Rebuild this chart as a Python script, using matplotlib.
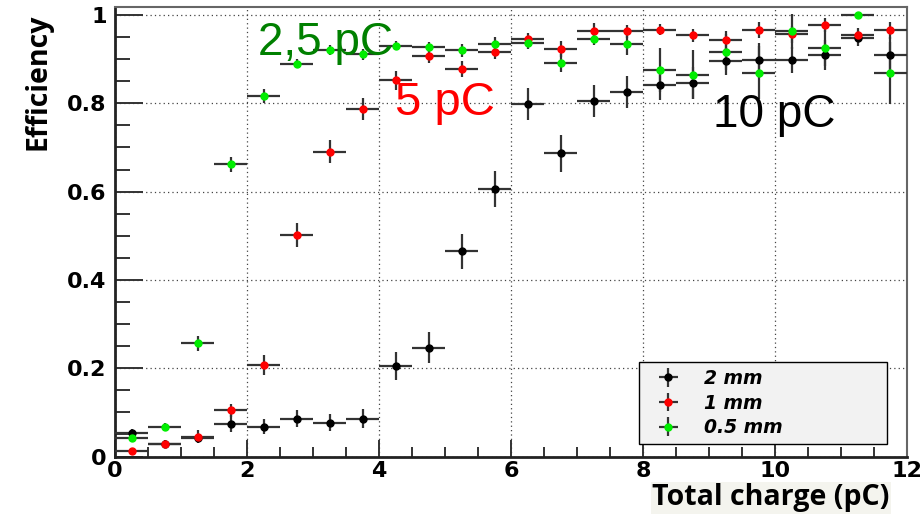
import matplotlib
matplotlib.use('Agg')
import matplotlib.pyplot as plt
from matplotlib.ticker import MultipleLocator

# bin centres (pC), bins of 0.5 pC
charge = [0.25, 0.75, 1.25, 1.75, 2.25, 2.75, 3.25, 3.75, 4.25, 4.75, 5.25, 5.75,
          6.25, 6.75, 7.25, 7.75, 8.25, 8.75, 9.25, 9.75, 10.25, 10.75, 11.25, 11.75]
half_bin = 0.25

eff_2mm = [0.054, 0.028, 0.042, 0.074, 0.067, 0.086, 0.077, 0.086, 0.205, 0.246, 0.465, 0.606,
           0.798, 0.687, 0.805, 0.826, 0.842, 0.846, 0.895, 0.897, 0.898, 0.909, 0.947, 0.909]
err_2mm = [0.009, 0.008, 0.010, 0.019, 0.017, 0.019, 0.020, 0.021, 0.032, 0.035, 0.040, 0.040,
           0.036, 0.042, 0.036, 0.036, 0.034, 0.037, 0.030, 0.040, 0.030, 0.034, 0.017, 0.040]

eff_1mm = [0.012, 0.029, 0.045, 0.105, 0.208, 0.502, 0.690, 0.787, 0.852, 0.907, 0.878, 0.915,
           0.945, 0.922, 0.964, 0.963, 0.967, 0.954, 0.943, 0.965, 0.956, 0.977, 0.955, 0.965]
err_1mm = [0.005, 0.008, 0.015, 0.015, 0.023, 0.027, 0.026, 0.024, 0.021, 0.015, 0.018, 0.015,
           0.015, 0.018, 0.017, 0.015, 0.012, 0.015, 0.020, 0.018, 0.020, 0.015, 0.015, 0.020]

eff_05mm = [0.041, 0.067, 0.257, 0.662, 0.817, 0.890, 0.921, 0.911, 0.930, 0.927, 0.920, 0.935,
            0.937, 0.891, 0.946, 0.935, 0.875, 0.865, 0.916, 0.869, 0.963, 0.925, 0.999, 0.869]
err_05mm = [0.008, 0.008, 0.017, 0.017, 0.016, 0.011, 0.012, 0.012, 0.010, 0.012, 0.015, 0.015,
            0.015, 0.020, 0.015, 0.025, 0.050, 0.055, 0.040, 0.060, 0.040, 0.040, 0.000, 0.070]

labels = ['2 mm', '1 mm', '0.5 mm']
colors = ['black', '#ff0000', '#00ee00']

fig = plt.figure(figsize=(9.24, 5.16), dpi=100)
ax = fig.add_axes([0.1245, 0.1153, 0.8571, 0.8711])

series = [(eff_2mm, err_2mm), (eff_1mm, err_1mm), (eff_05mm, err_05mm)]
for (eff, err), lab, col in zip(series, labels, colors):
    ax.errorbar(charge, eff, yerr=err, xerr=half_bin, fmt='o', color=col, ms=5,
                mec=col, ecolor='#333333', elinewidth=1.6, capsize=0, label=lab, zorder=3)

ax.set_xlim(0, 12)
ax.set_ylim(0, 1.018)
ax.xaxis.set_minor_locator(MultipleLocator(0.5))
ax.yaxis.set_minor_locator(MultipleLocator(0.05))
ax.set_xticks([0, 2, 4, 6, 8, 10, 12])
ax.set_xticklabels(['0', '2', '4', '6', '8', '10', '12'])
ax.set_yticks([0, 0.2, 0.4, 0.6, 0.8, 1.0])
ax.set_yticklabels(['0', '0.2', '0.4', '0.6', '0.8', '1'])

ax.grid(True, which='major', color='#444444', linestyle=(0, (1, 2.5)), linewidth=0.9, zorder=1)
ax.set_axisbelow(True)

ax.tick_params(axis='both', which='both', direction='in', top=False, right=False,
               color='#333333', width=1.4)
ax.tick_params(axis='y', which='major', length=20, pad=6)
ax.tick_params(axis='y', which='minor', length=11)
ax.tick_params(axis='x', which='major', length=12, pad=3)
ax.tick_params(axis='x', which='minor', length=7)
for lab in ax.get_xticklabels() + ax.get_yticklabels():
    lab.set_family('DejaVu Sans')
    lab.set_fontweight('bold')
    lab.set_fontsize(16)

for side in ['left', 'bottom']:
    ax.spines[side].set_linewidth(2.0)
    ax.spines[side].set_color('#222222')
for side in ['top', 'right']:
    ax.spines[side].set_linewidth(1.5)
    ax.spines[side].set_color('#666666')

ax.text(2.17, 0.909, '2,5 pC', color='#008000', fontsize=33, family='Liberation Sans',
        va='baseline', zorder=5)
ax.text(4.24, 0.773, '5 pC', color='#ff0000', fontsize=34, family='Liberation Sans',
        va='baseline', zorder=5)
ax.text(9.06, 0.747, '10 pC', color='black', fontsize=33, family='Liberation Sans',
        va='baseline', zorder=5)

leg = ax.legend(loc='center', bbox_to_anchor=(0.662, 0.024, 0.313, 0.19), mode='expand',
                prop={'family': 'DejaVu Sans', 'weight': 'bold', 'style': 'italic', 'size': 13.5},
                frameon=True, fancybox=False, handlelength=2.4, labelspacing=0.3,
                borderaxespad=0, handletextpad=0.7, borderpad=0.35)
leg.get_frame().set_facecolor('#f2f2f2')
leg.get_frame().set_edgecolor('black')
leg.get_frame().set_linewidth(1.0)
leg.get_frame().set_alpha(1)

fig.text(38 / 924, 0.841, 'Efficiency', rotation=90, ha='center', va='center',
         family='Open Sans', fontweight='bold', fontsize=20.5)
fig.text(652 / 924, (516 - 498) / 516, 'Total charge (pC)', ha='left', va='center',
         family='Open Sans', fontweight='bold', fontsize=20.5,
         bbox=dict(facecolor='#f4f4ee', edgecolor='none', pad=1))

fig.savefig('out.png', dpi=100)
